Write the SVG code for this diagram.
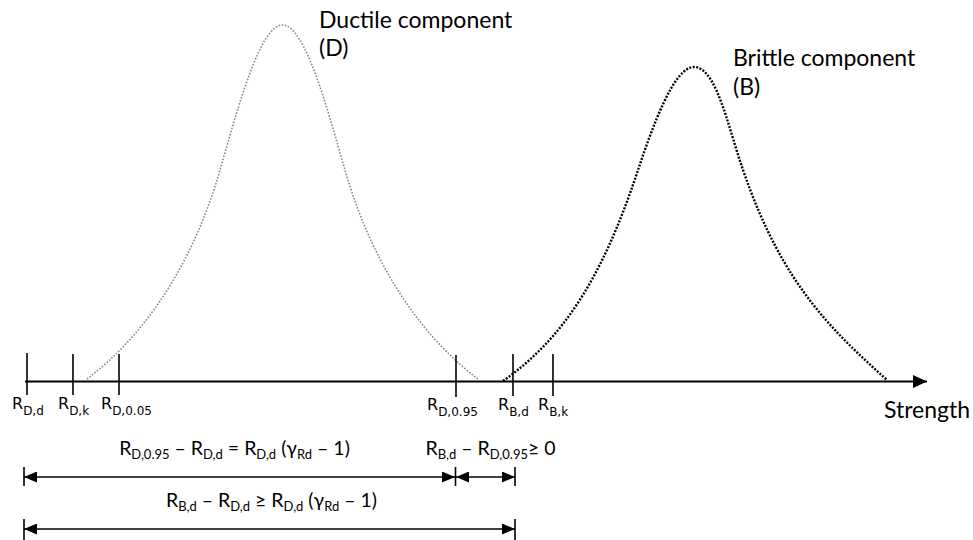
<svg xmlns="http://www.w3.org/2000/svg" width="973" height="540" viewBox="0 0 973 540">
<style>
.lbl{font-family:Lato,"Open Sans","Liberation Sans",sans-serif;font-size:23px;fill:#000}
.eq{font-family:Lato,"Open Sans","Liberation Sans",sans-serif;font-size:19.5px;fill:#000}
.tk{font-family:"DejaVu Sans","Liberation Sans",sans-serif;font-size:16px;fill:#000}
.tick{stroke:#000;stroke-width:1.6;fill:none}
.dim{stroke:#000;stroke-width:1.5;fill:none}
.ductile{fill:none;stroke:#8a8a8a;stroke-width:1.6;stroke-dasharray:1.6 1.6}
.brittle{fill:none;stroke:#000;stroke-width:2.4;stroke-dasharray:2 1.5}
</style>
<defs>
<marker id="arr" viewBox="0 0 13 11" refX="13" refY="5.5" markerWidth="13" markerHeight="11" markerUnits="userSpaceOnUse" orient="auto-start-reverse">
<path d="M0,0 L13,5.5 L0,11 Z" fill="#000"/>
</marker>
<marker id="axarr" viewBox="0 0 14 13" refX="14" refY="6.5" markerWidth="14" markerHeight="13" markerUnits="userSpaceOnUse" orient="auto">
<path d="M0,0 L14,6.5 L0,13 Z" fill="#000"/>
</marker>
</defs>
<rect width="973" height="540" fill="#fff"/>

<g id="curve-ductile">
<path class="ductile" d="M87,379 C137,341.5 190,274.4 220,170 C238,107.4 260,25 282.5,25 C305,25 327,107.4 345,170 C375,274.4 428,341.5 478,379"/>
</g>
<g id="curve-brittle">
<path class="brittle" d="M503,381 C563,339 602,278 637,173 C653,125 674,67 694,67 C712,67 723,105.4 735,145 C775,277 827,326 887,380"/>
</g>

<g id="connectors">
<line x1="25" y1="381.5" x2="927" y2="381.5" stroke="#000" stroke-width="2" marker-end="url(#axarr)"/>
<line class="dim" x1="24" y1="477" x2="455" y2="477" marker-start="url(#arr)" marker-end="url(#arr)"/>
<line class="dim" x1="456" y1="477" x2="515" y2="477" marker-start="url(#arr)" marker-end="url(#arr)"/>
<line class="dim" x1="24" y1="529" x2="515" y2="529" marker-start="url(#arr)" marker-end="url(#arr)"/>
<line class="tick" x1="24" y1="467" x2="24" y2="486"/>
<line class="tick" x1="455.5" y1="467" x2="455.5" y2="486"/>
<line class="tick" x1="515" y1="467" x2="515" y2="486"/>
<line class="tick" x1="24" y1="519" x2="24" y2="540"/>
<line class="tick" x1="515" y1="519" x2="515" y2="540"/>
</g>

<g id="tick-RDd">
<line class="tick" x1="27" y1="353" x2="27" y2="395"/>
<text class="tk" x="12" y="409">R<tspan font-size="12" dy="6">D,d</tspan></text>
</g>
<g id="tick-RDk">
<line class="tick" x1="73" y1="354" x2="73" y2="395"/>
<text class="tk" x="58" y="409">R<tspan font-size="12" dy="6">D,k</tspan></text>
</g>
<g id="tick-RD005">
<line class="tick" x1="119" y1="354" x2="119" y2="395"/>
<text class="tk" x="101" y="409">R<tspan font-size="12" dy="6">D,0.05</tspan></text>
</g>
<g id="tick-RD095">
<line class="tick" x1="456" y1="355" x2="456" y2="397"/>
<text class="tk" x="427" y="410">R<tspan font-size="12" dy="6">D,0.95</tspan></text>
</g>
<g id="tick-RBd">
<line class="tick" x1="513" y1="354" x2="513" y2="396"/>
<text class="tk" x="498" y="410">R<tspan font-size="12" dy="6">B,d</tspan></text>
</g>
<g id="tick-RBk">
<line class="tick" x1="553" y1="354" x2="553" y2="396"/>
<text class="tk" x="538" y="410">R<tspan font-size="12" dy="6">B,k</tspan></text>
</g>

<g id="label-ductile">
<text class="lbl" x="319" y="28">Ductile component</text>
<text class="lbl" x="319" y="56">(D)</text>
</g>
<g id="label-brittle">
<text class="lbl" x="733" y="66">Brittle component</text>
<text class="lbl" x="733" y="95">(B)</text>
</g>
<g id="label-strength">
<text class="lbl" x="884" y="418">Strength</text>
</g>

<g id="eq-1">
<text class="eq" x="234.5" y="455" text-anchor="middle">R<tspan font-size="13" dy="4">D,0.95</tspan><tspan dy="-4"> – R</tspan><tspan font-size="13" dy="4">D,d</tspan><tspan dy="-4"> = R</tspan><tspan font-size="13" dy="4">D,d</tspan><tspan dy="-4"> (γ</tspan><tspan font-size="13" dy="4">Rd</tspan><tspan dy="-4"> – 1)</tspan></text>
</g>
<g id="eq-2">
<text class="eq" x="490.5" y="455" text-anchor="middle">R<tspan font-size="13" dy="4">B,d</tspan><tspan dy="-4"> – R</tspan><tspan font-size="13" dy="4">D,0.95</tspan><tspan dy="-4">≥ 0</tspan></text>
</g>
<g id="eq-3">
<text class="eq" x="271.5" y="507" text-anchor="middle">R<tspan font-size="13" dy="4">B,d</tspan><tspan dy="-4"> – R</tspan><tspan font-size="13" dy="4">D,d</tspan><tspan dy="-4"> ≥ R</tspan><tspan font-size="13" dy="4">D,d</tspan><tspan dy="-4"> (γ</tspan><tspan font-size="13" dy="4">Rd</tspan><tspan dy="-4"> – 1)</tspan></text>
</g>
</svg>
